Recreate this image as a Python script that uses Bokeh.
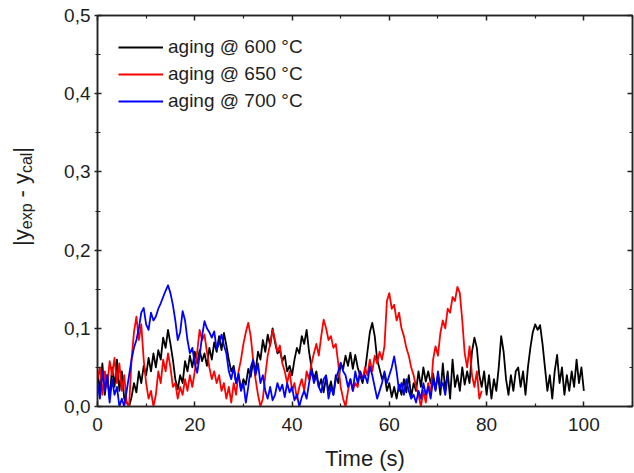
import numpy as np
from bokeh.plotting import figure
from bokeh.layouts import row
from bokeh.models import (Range1d, FixedTicker, LinearAxis, Legend, LegendItem,
                          CustomJSTickFormatter, ColumnDataSource)
from bokeh.core.properties import value
from bokeh.embed import file_html
from bokeh.resources import INLINE

# ---------------- data ----------------
step_s = 0.5

black_600 = [
    .045, .020, .055, .015, .040, .010, .050, .025, .060, .020,
    .045, .010, .005, .000, .012, .030, .018, .045, .030, .052,
    .040, .062, .045, .068, .050, .072, .060, .088, .075, .098,
    .080, .060, .035, .022, .040, .030, .058, .045, .065, .050,
    .070, .055, .072, .058, .068, .052, .075, .060, .082, .070,
    .090, .072, .094, .078, .060, .045, .052, .030, .040, .022,
    .035, .028, .048, .038, .058, .045, .070, .060, .085, .070,
    .092, .078, .100, .082, .068, .072, .058, .065, .045, .052,
    .040, .060, .075, .068, .090, .080, .098, .070, .050, .035,
    .045, .025, .035, .018, .038, .020, .032, .015, .040, .030,
    .055, .048, .065, .052, .069, .048, .066, .050, .040, .030,
    .045, .070, .095, .107, .090, .060, .048, .035, .042, .020,
    .030, .012, .025, .010, .028, .015, .035, .018, .040, .012,
    .030, .020, .045, .025, .050, .032, .045, .030, .042, .022,
    .040, .015, .055, .020, .045, .010, .060, .025, .040, .020,
    .050, .028, .045, .030, .070, .088, .075, .040, .025, .045,
    .015, .040, .010, .035, .020, .050, .090, .070, .035, .015,
    .040, .020, .045, .050, .025, .045, .015, .050, .075, .095,
    .105, .098, .104, .080, .050, .020, .040, .010, .045, .066,
    .030, .050, .015, .040, .020, .045, .025, .060, .030, .050,
    .020,
]

red_650 = [
    .035, .050, .015, .045, .025, .058, .040, .062, .030, .055,
    .020, .040, .005, .000, .060, .095, .115, .085, .105, .060,
    .030, .010, .020, .000, .015, .045, .030, .060, .045, .068,
    .050, .025, .030, .010, .025, .015, .035, .020, .040, .025,
    .045, .070, .098, .085, .092, .070, .050, .035, .045, .030,
    .040, .020, .030, .010, .025, .005, .030, .015, .045, .060,
    .080, .095, .107, .090, .060, .035, .015, .000, .010, .040,
    .065, .080, .098, .085, .070, .078, .055, .045, .030, .045,
    .020, .030, .010, .025, .035, .020, .045, .035, .055, .068,
    .080, .065, .090, .111, .100, .085, .090, .075, .080, .055,
    .025, .010, .000, .020, .035, .020, .030, .025, .045, .035,
    .050, .040, .060, .045, .065, .055, .070, .060, .077, .135,
    .145, .125, .130, .110, .120, .100, .090, .075, .065, .050,
    .040, .025, .015, .000, .020, .005, .030, .015, .060, .077,
    .065, .094, .110, .100, .125, .120, .140, .135, .153, .145,
    .110, .068, .050, .077, .040, .025, .045, .010, .020,
]

blue_700 = [
    .030, .010, .045, .020, .040, .005, .035, .015, .025, .000,
    .010, .000, .020, .040, .060, .075, .085, .100, .120, .126,
    .105, .098, .120, .110, .115, .125, .132, .140, .148, .155,
    .145, .130, .110, .085, .095, .122, .110, .085, .068, .075,
    .055, .043, .065, .090, .109, .100, .095, .088, .096, .073,
    .080, .092, .078, .068, .045, .035, .050, .030, .042, .020,
    .030, .005, .025, .050, .060, .040, .055, .030, .040, .020,
    .010, .025, .008, .015, .030, .020, .028, .012, .030, .018,
    .025, .008, .015, .000, .012, .020, .010, .030, .047, .030,
    .040, .025, .018, .035, .040, .010, .025, .015, .035, .045,
    .056, .045, .040, .025, .035, .020, .045, .030, .045, .035,
    .040, .030, .051, .040, .025, .010, .020, .030, .045, .030,
    .040, .050, .064, .045, .020, .030, .015, .035, .020, .010,
    .015, .005, .020, .010, .030, .015, .025, .010, .035, .020,
    .045, .025, .030, .015, .040,
]

series_values = [black_600, red_650, blue_700]
series_labels = ["aging @ 600 °C", "aging @ 650 °C", "aging @ 700 °C"]
series_colors = ["#000000", "#ff0000", "#0000ff"]

x_ticks = [0, 20, 40, 60, 80, 100]
x_minor_ticks = [10, 30, 50, 70, 90, 110]
y_ticks = [0.0, 0.1, 0.2, 0.3, 0.4, 0.5]
y_tick_labels = ["0,0", "0,1", "0,2", "0,3", "0,4", "0,5"]
y_minor_ticks = [0.05, 0.15, 0.25, 0.35, 0.45]
x_title = "Time (s)"
# y title: |y_exp - y_cal|  as (text, is_subscript, gap_before_in_em)
y_title_parts = [("|y", False, 0.0), ("exp", True, 0.0), ("- y", False, 0.278),
                 ("cal", True, 0.0), ("|", False, 0.0)]

X_MAX, Y_MAX = 110, 0.5

# ---------------- layout ----------------
PAGE_W, PAGE_H = 634, 473
TITLE_W = 45                       # narrow strip holding the rotated y title
FIG_W = PAGE_W - TITLE_W
B_L, B_R, B_T, B_B = 97 - TITLE_W, 2, 15, 66
FONT = "Liberation Sans"
TXT = "#1e1e1e"
AX = "#222222"

p = figure(width=FIG_W, height=PAGE_H, x_range=Range1d(0, X_MAX), y_range=Range1d(0, Y_MAX),
           output_backend="svg", toolbar_location=None,
           min_border_left=B_L, min_border_right=B_R, min_border_top=B_T, min_border_bottom=B_B)
p.xgrid.visible = False
p.ygrid.visible = False
p.outline_line_color = AX
p.outline_line_width = 1.5
p.background_fill_color = "white"
p.border_fill_color = "white"

def style_axis(ax, ticker, tin, tout, labels=True):
    ax.ticker = ticker
    ax.axis_line_color = AX
    ax.axis_line_width = 1.5
    ax.major_tick_line_color = AX
    ax.minor_tick_line_color = AX
    ax.major_tick_line_width = 1.5
    ax.minor_tick_line_width = 1.2
    ax.major_tick_in = tin
    ax.major_tick_out = tout
    ax.minor_tick_in = 3 if tin else 0
    ax.minor_tick_out = 2 if tout else 0
    if labels:
        ax.major_label_text_font = FONT
        ax.major_label_text_font_size = "19px"
        ax.major_label_text_color = TXT
    else:
        ax.formatter = CustomJSTickFormatter(code="return ''")
        ax.major_label_text_font_size = "0px"
        ax.major_label_standoff = 0

xa = p.xaxis[0]
style_axis(xa, FixedTicker(ticks=x_ticks, minor_ticks=x_minor_ticks), 5, 0)
xa.major_label_standoff = 11
xa.axis_label = x_title
xa.axis_label_text_font = FONT
xa.axis_label_text_font_size = "22px"
xa.axis_label_text_font_style = "normal"
xa.axis_label_text_color = TXT
xa.axis_label_standoff = 12

ya = p.yaxis[0]
style_axis(ya, FixedTicker(ticks=y_ticks, minor_ticks=y_minor_ticks), 4, 3)
ya.major_label_standoff = 4
ya.major_label_overrides = {v: s for v, s in zip(y_ticks, y_tick_labels)}

top = LinearAxis()
style_axis(top, FixedTicker(ticks=x_ticks, minor_ticks=x_minor_ticks), 5, 0, labels=False)
p.add_layout(top, "above")
right = LinearAxis()
style_axis(right, FixedTicker(ticks=y_ticks, minor_ticks=y_minor_ticks), 5, 0, labels=False)
p.add_layout(right, "right")

# ---------------- curves ----------------
legend_items = []
for vals, col, lab in zip(series_values, series_colors, series_labels):
    t = np.arange(len(vals)) * step_s
    r = p.line(t, vals, line_color=col, line_width=1.8, line_join="round")
    legend_items.append(LegendItem(label=lab, renderers=[r]))

legend = Legend(items=legend_items,
                location="top_left", label_text_font=FONT, label_text_font_size="19px",
                label_text_color=TXT, glyph_width=45, glyph_height=20, label_height=20,
                label_standoff=5, spacing=5, padding=11, margin=10,
                background_fill_alpha=0, border_line_alpha=0)
p.add_layout(legend)

# ---------------- rotated y title with subscripts, in its own strip ----------------
# The strip's frame has the same top/bottom borders as the main plot, and its
# y range is expressed in "page px measured from the bottom", so data y = PAGE_H - page_y.
MAIN_PX, SUB_PX = 22, 16
ADV = {'|': 0.26, 'y': 0.5, 'e': 0.556, 'x': 0.5, 'p': 0.556, ' ': 0.278,
       '-': 0.333, 'c': 0.5, 'a': 0.556, 'l': 0.222}
main_base_x = 21    # strip x of the main text baseline
sub_base_x = 25.5   # strip x of the subscript baseline
start_y = 246       # page px (from top) where the title starts (reads upwards)

tx, ty, tt, ts = [], [], [], []
along = 0.0
for text, is_sub, gap in y_title_parts:
    size = SUB_PX if is_sub else MAIN_PX
    along += gap * MAIN_PX
    tx.append(sub_base_x if is_sub else main_base_x)
    ty.append(PAGE_H - (start_y - along))
    tt.append(text)
    ts.append(f"{size}px")
    along += sum(ADV[c] for c in text) * size

tf = figure(width=TITLE_W, height=PAGE_H, x_range=Range1d(0, TITLE_W),
            y_range=Range1d(B_B, PAGE_H - B_T),
            output_backend="svg", toolbar_location=None, x_axis_type=None, y_axis_type=None,
            min_border_left=0, min_border_right=0, min_border_top=B_T, min_border_bottom=B_B)
tf.xgrid.visible = False
tf.ygrid.visible = False
tf.outline_line_color = None
tf.background_fill_color = "white"
tf.border_fill_color = "white"
src = ColumnDataSource(dict(x=tx, y=ty, text=tt, size=ts))
tf.text(x="x", y="y", text="text", text_font_size="size", source=src, angle=np.pi / 2,
        text_align="left", text_baseline="alphabetic", text_font=value(FONT), text_color=TXT)

layout = row(tf, p, spacing=0)
open("out.html", "w").write(file_html(layout, INLINE))
